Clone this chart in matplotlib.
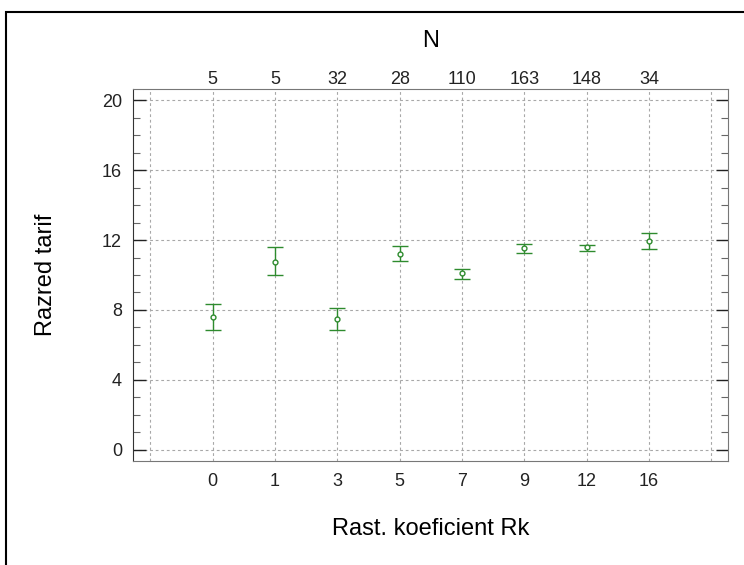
import matplotlib
matplotlib.use("Agg")
import matplotlib.pyplot as plt
from matplotlib.patches import Rectangle
from matplotlib.ticker import MultipleLocator, FixedLocator

plt.rcParams["font.family"] = ["Liberation Sans", "DejaVu Sans"]

# Data
categories = ["0", "1", "3", "5", "7", "9", "12", "16"]
counts = ["5", "5", "32", "28", "110", "163", "148", "34"]
means = [7.6, 10.76, 7.5, 11.22, 10.1, 11.52, 11.58, 11.92]
lower = [6.84, 10.0, 6.87, 10.82, 9.79, 11.28, 11.37, 11.47]
upper = [8.34, 11.58, 8.1, 11.66, 10.36, 11.75, 11.7, 12.38]

pos = list(range(len(categories)))
err_lo = [m - l for m, l in zip(means, lower)]
err_hi = [u - m for m, u in zip(means, upper)]

green = "#2e8b2e"

fig = plt.figure(figsize=(7.44, 5.65), dpi=100)
ax = fig.add_axes([133 / 744, 1 - 461 / 565, (728 - 133) / 744, (461 - 89) / 565])

ax.errorbar(pos, means, yerr=[err_lo, err_hi], fmt="o", color=green,
            ecolor=green, elinewidth=1.0, capsize=6, capthick=1.0,
            markersize=3.5, markerfacecolor="white", markeredgewidth=1.0,
            zorder=3)

ax.set_xlim(-1.28, 8.27)
ax.set_ylim(-0.63, 20.63)

# grid lines at every category slot, including the empty ones at the ends
ax.xaxis.set_major_locator(FixedLocator(list(range(-1, len(categories) + 1))))
ax.set_xticklabels([""] + categories + [""])
ax.yaxis.set_major_locator(MultipleLocator(4))
ax.yaxis.set_minor_locator(MultipleLocator(1))
ax.grid(True, which="major", linestyle=(0, (2.5, 2.5)), color="#a8a8a8", linewidth=0.8)

ax.tick_params(axis="x", which="both", length=0, labelsize=13, pad=9, colors="#222222")
ax.tick_params(axis="y", which="major", direction="in", length=9, width=1,
               labelsize=13, pad=8, left=True, right=True, colors="#222222")
ax.tick_params(axis="y", which="minor", direction="in", length=5, width=0.8,
               left=True, right=True, color="#666666")

ax.spines["left"].set_color("#333333")
for side in ["top", "bottom", "right"]:
    ax.spines[side].set_color("#777777")

# top axis with the group sizes
ax2 = ax.twiny()
ax2.set_xlim(ax.get_xlim())
ax2.xaxis.set_major_locator(FixedLocator(pos))
ax2.set_xticklabels(counts)
ax2.tick_params(axis="x", length=0, labelsize=13, pad=1, colors="#222222")
ax2.set_xlabel("N", fontsize=17, labelpad=17)
for s in ax2.spines.values():
    s.set_visible(False)

ax.set_xlabel("Rast. koeficient Rk", fontsize=17, labelpad=20)
ax.set_ylabel("Razred tarif", fontsize=17, labelpad=32)

# outer frame around the figure
fig.patches.append(Rectangle((6 / 744, -0.02), 1.02, 1 - 12 / 565 + 0.02,
                             transform=fig.transFigure, fill=False,
                             edgecolor="black", linewidth=1.5))

fig.savefig("out.png", dpi=100)
